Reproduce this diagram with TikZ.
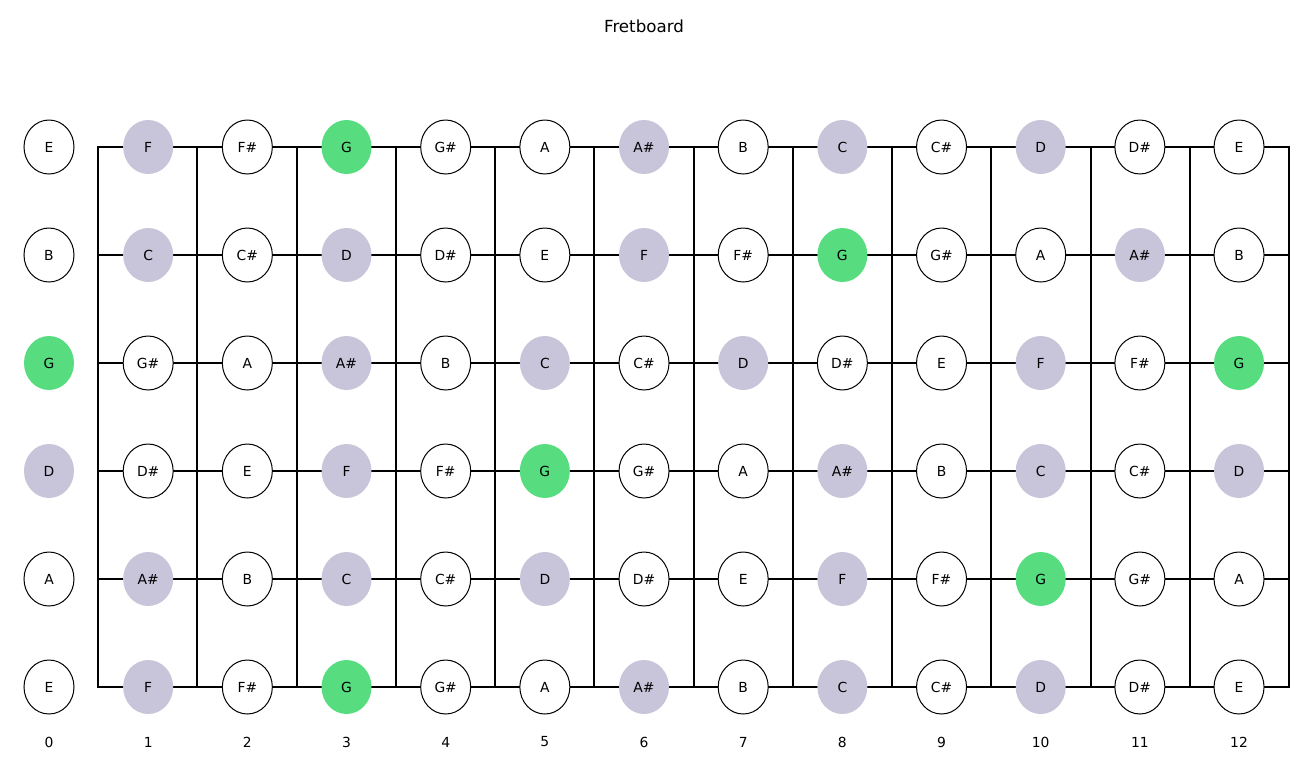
\documentclass[tikz,border=0pt]{standalone}
\usepackage{fontspec}
\setmainfont{DejaVu Sans}
\usetikzlibrary{shapes.geometric}
\definecolor{rootg}{RGB}{87,221,128}
\definecolor{scalel}{RGB}{200,196,218}
\newcommand\fbnotename[1]{\ifcase#1 C\or C\#\or D\or D\#\or E\or F\or F\#\or G\or G\#\or A\or A\#\or B\fi}
\tikzset{
  note/.style={ellipse, minimum width=50*0.75pt, minimum height=54*0.75pt, inner sep=0pt, font=\fontsize{10.4pt}{12pt}\selectfont},
  plainnote/.style={note, draw=black, line width=0.75pt, fill=white},
  lavnote/.style={note, fill=scalel},
  grnote/.style={note, fill=rootg},
  deg0/.style={lavnote}, deg1/.style={plainnote}, deg2/.style={lavnote}, deg3/.style={plainnote},
  deg4/.style={plainnote}, deg5/.style={lavnote}, deg6/.style={plainnote}, deg7/.style={grnote},
  deg8/.style={plainnote}, deg9/.style={plainnote}, deg10/.style={lavnote}, deg11/.style={plainnote},
  gridline/.style={line width=1.5pt, black, line cap=rect},
  fretnum/.style={font=\fontsize{10.4pt}{12pt}\selectfont, inner sep=0pt},
  titletext/.style={font=\fontsize{12.5pt}{15pt}\selectfont, inner sep=0pt}
}
\begin{document}
\begin{tikzpicture}[x=0.75pt,y=-0.75pt]
\useasboundingbox[fill=white] (0,0) rectangle (1307,772);
\node[titletext] (title) at (644,26) {Fretboard};
% fret coordinates
\foreach \k in {0,...,12}{
  \coordinate (ft-\k) at ({98+99.25*\k},147);
  \coordinate (fb-\k) at ({98+99.25*\k},687);
}
\foreach \r/\y in {1/147,2/255,3/363,4/471,5/579,6/687}{
  \coordinate (sl-\r) at (98,\y);
  \coordinate (sr-\r) at (1289,\y);
  \draw[gridline] (sl-\r) -- (sr-\r);
}
\foreach \k in {0,...,12}{
  \draw[gridline] (ft-\k) -- (fb-\k);
}
% notes
\foreach \r/\y/\open in {1/147/4,2/255/11,3/363/7,4/471/2,5/579/9,6/687/4}{
  \foreach \i in {0,...,12}{
    \pgfmathtruncatemacro\nn{mod(\open+\i,12)}
    \node[deg\nn] (n-\r-\i) at ({49+99.17*\i},\y) {\fbnotename{\nn}};
  }
}
\foreach \i in {0,...,12}{
  \node[fretnum] (fn-\i) at ({49+99.17*\i},742) {\i};
}
\end{tikzpicture}
\end{document}
